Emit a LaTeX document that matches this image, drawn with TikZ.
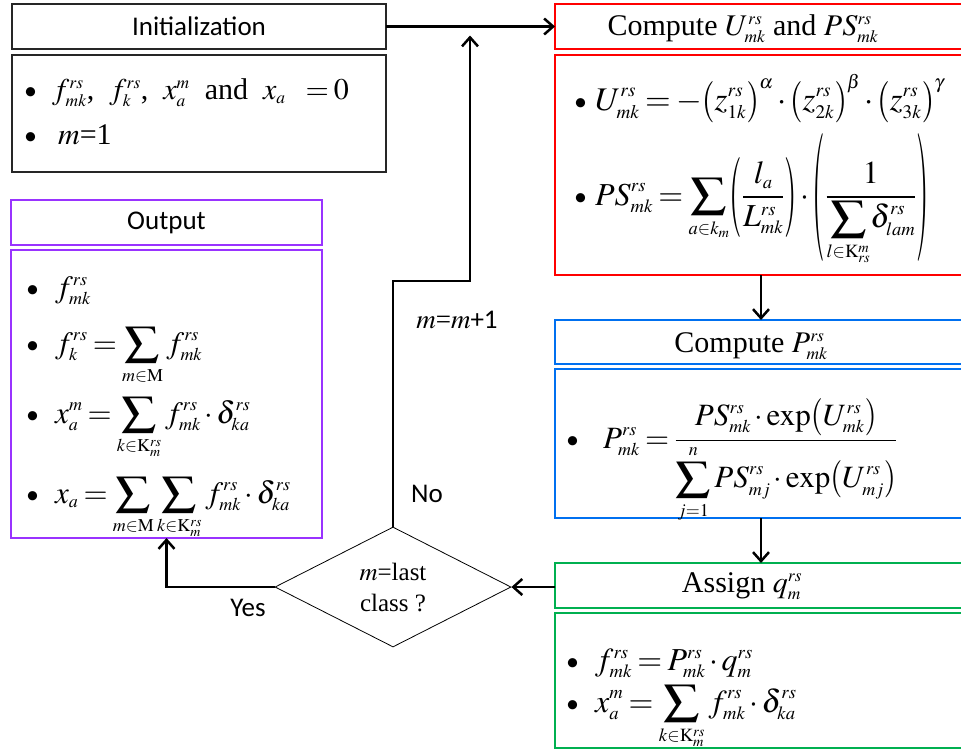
\documentclass[tikz,border=0pt]{standalone}
\usepackage{mathptmx}
\usepackage[no-math]{fontspec}
\setmainfont{Liberation Serif}
\setsansfont{Carlito}
\usetikzlibrary{arrows.meta, positioning, shapes.geometric, calc}
\definecolor{boxred}{RGB}{255,0,0}
\definecolor{boxblue}{RGB}{0,112,240}
\definecolor{boxgreen}{RGB}{0,176,80}
\definecolor{boxpurple}{RGB}{153,51,255}
\renewcommand{\defaultscriptratio}{.58}
\renewcommand{\defaultscriptscriptratio}{.45}
\thickmuskip=3mu plus 2mu
\medmuskip=2mu plus 1mu
\newcommand{\bul}[1]{{\sffamily\fontsize{26}{30}\selectfont\textbullet}\hspace{#1}}
\newcommand{\Sum}{\mathop{\vcenter{\hbox{\scalebox{1.6}[1.35]{$\textstyle\sum$}}}}\limits}
\newcommand{\lp}[1]{\mathopen{\vcenter{\hbox{\scalebox{1}[#1]{$($}}}}}
\newcommand{\rp}[1]{\mathclose{\vcenter{\hbox{\scalebox{1}[#1]{$)$}}}}}

\begin{document}
\begin{tikzpicture}[x=1pt, y=-1pt,
  box/.style={draw=#1, line width=2pt, anchor=north west, inner sep=0pt, outer sep=0pt},
  plainbox/.style={box=black!85, line width=1.5pt},
  ttl/.style={font=\sffamily\fontsize{27}{32}\selectfont},
  ttlmath/.style={anchor=base, inner sep=0pt, font=\fontsize{30}{36}\selectfont},
  eq/.style={anchor=base west, inner sep=0pt, font=\fontsize{#1}{#1}\selectfont},
  arr/.style={-{Straight Barb[length=9pt, width=16pt]}, line width=2.5pt},
  lbl/.style={font=\sffamily\fontsize{27}{32}\selectfont}]
\useasboundingbox (0,0) rectangle (961,753);
\clip (0,0) rectangle (961,753);

% Initialization
\node[plainbox, minimum width=374pt, minimum height=45pt, ttl] (init) at (12,4) {Initialization};
\node[plainbox, minimum width=374pt, minimum height=117pt] (initB) at (12,55) {};
\node[eq=30] (i1) at (24,99) {\bul{15pt}$f^{rs}_{mk}$,\enspace$f^{rs}_{k}$,\enspace$x^{m}_{a}$\enspace and\enspace$x_{a}\;\;\; = 0$};
\node[eq=30] (i2) at (24,144) {\bul{21pt}$m$=1};

% Output
\node[box=boxpurple, minimum width=311pt, minimum height=45pt, ttl] (outT) at (11,200) {Output};
\node[box=boxpurple, minimum width=311pt, minimum height=288pt] (outB) at (11,250) {};
\node[eq=31] (o1) at (26,297) {\bul{16pt}$f^{rs}_{mk}$};
\node[eq=31] (o2) at (26,353) {\bul{16pt}$\displaystyle f^{rs}_{k} = \Sum_{m\in\mathrm{M}} f^{rs}_{mk}$};
\node[eq=31] (o3) at (26,423) {\bul{16pt}$\displaystyle x^{m}_{a} = \Sum_{k\in\mathrm{K}^{rs}_{m}} f^{rs}_{mk}\cdot\delta^{rs}_{ka}$};
\node[eq=31] (o4) at (26,503) {\bul{16pt}$\displaystyle x_{a} = \Sum_{m\in\mathrm{M}}\Sum_{k\in\mathrm{K}^{rs}_{m}} f^{rs}_{mk}\cdot\delta^{rs}_{ka}$};

% Compute U and PS
\node[box=boxred, minimum width=430pt, minimum height=45pt] (redT) at (555,4) {};
\node[ttlmath] (redTxt) at (743,35) {Compute $U^{rs}_{mk}$ and $PS^{rs}_{mk}$};
\node[box=boxred, minimum width=430pt, minimum height=220pt] (redB) at (555,55) {};
\node[eq=33] (r1) at (574,110) {\bul{8pt}$\displaystyle U^{rs}_{mk} = -\lp{1.25}z^{rs}_{1k}\rp{1.25}^{\alpha}\cdot\lp{1.25}z^{rs}_{2k}\rp{1.25}^{\beta}\cdot\lp{1.25}z^{rs}_{3k}\rp{1.25}^{\gamma}$};
\node[eq=32] (r2) at (574,205) {\bul{8pt}$\displaystyle PS^{rs}_{mk} = \Sum_{a\in k_{m}}\lp{2.5}\frac{l_{a}}{L^{rs}_{mk}}\rp{2.5}\cdot\lp{4}\frac{1}{\displaystyle\Sum_{l\in\mathrm{K}^{m}_{rs}}\!\delta^{rs}_{lam}}\rp{4}$};

% Compute P
\node[box=boxblue, minimum width=430pt, minimum height=44pt] (blueT) at (555,320) {};
\node[ttlmath] (blueTxt) at (751,352) {Compute $P^{rs}_{mk}$};
\node[box=boxblue, minimum width=430pt, minimum height=149pt] (blueB) at (555,369) {};
\node[eq=31] (b1) at (566,448) {\bul{24pt}$\displaystyle P^{rs}_{mk} = \frac{PS^{rs}_{mk}\cdot\mathrm{exp}\lp{1.2}U^{rs}_{mk}\rp{1.2}}{\displaystyle\Sum_{j=1}^{n} PS^{rs}_{mj}\cdot\mathrm{exp}\lp{1.2}U^{rs}_{mj}\rp{1.2}}$};

% Assign q
\node[box=boxgreen, minimum width=430pt, minimum height=45pt] (greenT) at (555,563) {};
\node[ttlmath] (greenTxt) at (742,592) {Assign $q^{rs}_{m}$};
\node[box=boxgreen, minimum width=430pt, minimum height=135pt] (greenB) at (555,613) {};
\node[eq=32] (g1) at (566,670) {\bul{16pt}$f^{rs}_{mk} = P^{rs}_{mk}\cdot q^{rs}_{m}$};
\node[eq=32] (g2) at (566,712) {\bul{16pt}$\displaystyle x^{m}_{a} = \Sum_{k\in\mathrm{K}^{rs}_{m}} f^{rs}_{mk}\cdot\delta^{rs}_{ka}$};

% Decision
\node[draw, diamond, aspect=2, minimum width=236pt, minimum height=120pt, inner sep=0pt, line width=0.8pt, align=center, font=\fontsize{25}{31}\selectfont] (dec) at (393,587) {$m$=last\\class ?};
\node[lbl] (yes) at (248,608) {Yes};
\node[lbl] (no) at (427,494) {No};
\node[font=\fontsize{27}{32}\selectfont] (upd) at (457,320) {$m$=$m${\sffamily +1}};

% Connectors
\coordinate (turn) at (470,281);
\coordinate (midx) at (761,0);
\draw[arr] (init.east) -- (redT.west);
\draw[arr, shorten >=9pt] (dec.north) |- (turn) -- (turn |- init.east);
\draw[arr] (redB.south -| midx) -- (blueT.north -| midx);
\draw[arr] (blueB.south -| midx) -- (greenT.north -| midx);
\draw[arr] (dec.east -| greenT.west) -- (dec.east);
\draw[arr] (dec.west) -| (outB.south);
\end{tikzpicture}
\end{document}
